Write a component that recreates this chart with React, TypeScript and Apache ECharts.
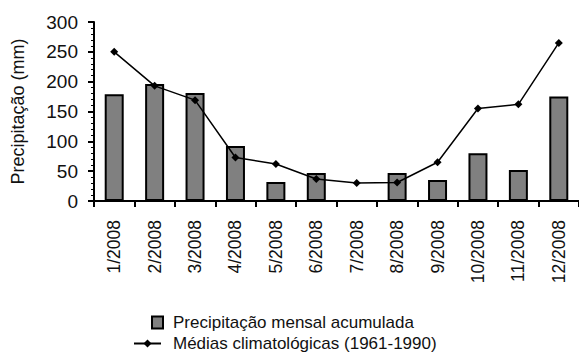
import React, { useEffect, useRef } from "react";
import * as echarts from "echarts";

const categories = ["1/2008", "2/2008", "3/2008", "4/2008", "5/2008", "6/2008", "7/2008", "8/2008", "9/2008", "10/2008", "11/2008", "12/2008"];
const precipitacao = [179, 196, 181, 92, 32, 47, 0, 47, 35, 80, 52, 175];
const medias = [250, 193, 169, 73, 62, 37, 30, 31, 65, 155, 162, 265];
const yTicks = { min: 0, max: 300, interval: 50 };
const barName = "Precipitação mensal acumulada";
const lineName = "Médias climatológicas (1961-1990)";

const FONT = "'Liberation Sans', Arial, sans-serif";
const TXT = "#111111";

export default function App() {
  const ref = useRef<HTMLDivElement>(null);
  useEffect(() => {
    if (!ref.current) return;
    const chart = echarts.init(ref.current, null, { renderer: "svg" });
    chart.setOption({
      animation: false,
      backgroundColor: "#ffffff",
      textStyle: { fontFamily: FONT, color: TXT },
      grid: { left: 94, right: 0, top: 22, bottom: 152, containLabel: false },
      legend: [
        {
          data: [{ name: barName, icon: "rect" }],
          left: 151,
          top: 314,
          padding: 0,
          orient: "vertical",
          itemWidth: 11,
          itemHeight: 12,
          textStyle: { fontSize: 17, lineHeight: 16, color: TXT, fontFamily: FONT, padding: [0, 0, 0, 5] },
        },
        {
          data: [lineName],
          left: 133,
          top: 335,
          padding: 0,
          orient: "vertical",
          itemWidth: 27,
          itemHeight: 10,
          textStyle: { fontSize: 17, lineHeight: 16, color: TXT, fontFamily: FONT, padding: [0, 0, 0, 7] },
        },
      ],
      xAxis: {
        type: "category",
        data: categories,
        boundaryGap: true,
        axisLine: { show: true, lineStyle: { color: "#000", width: 2 } },
        axisTick: { show: true, alignWithLabel: false, length: 6, lineStyle: { color: "#000", width: 2 } },
        axisLabel: { rotate: 90, fontSize: 17.5, color: TXT, margin: 19, fontFamily: FONT },
        splitLine: { show: false },
      },
      yAxis: {
        type: "value",
        min: yTicks.min,
        max: yTicks.max,
        interval: yTicks.interval,
        name: "Precipitação (mm)",
        nameLocation: "middle",
        nameRotate: 90,
        nameGap: 67,
        nameTextStyle: { fontSize: 18, color: TXT, fontFamily: FONT },
        axisLine: { show: true, lineStyle: { color: "#000", width: 2 } },
        axisTick: { show: true, length: 6, lineStyle: { color: "#000", width: 2 } },
        minorTick: { show: true, splitNumber: 5, length: 3, lineStyle: { color: "#000", width: 1 } },
        axisLabel: { fontSize: 19, color: TXT, margin: 16, fontFamily: FONT },
        splitLine: { show: false },
      },
      series: [
        {
          name: barName,
          type: "bar",
          data: precipitacao,
          barWidth: 19,
          itemStyle: { color: "#808080", borderColor: "#000", borderWidth: 2 },
        },
        {
          name: lineName,
          type: "line",
          data: medias,
          symbol: "diamond",
          symbolSize: 8,
          lineStyle: { color: "#000", width: 1.5 },
          itemStyle: { color: "#000" },
        },
      ],
    });
    return () => chart.dispose();
  }, []);
  return <div ref={ref} style={{ position: "fixed", left: 0, top: 0, width: 579, height: 353 }} />;
}
